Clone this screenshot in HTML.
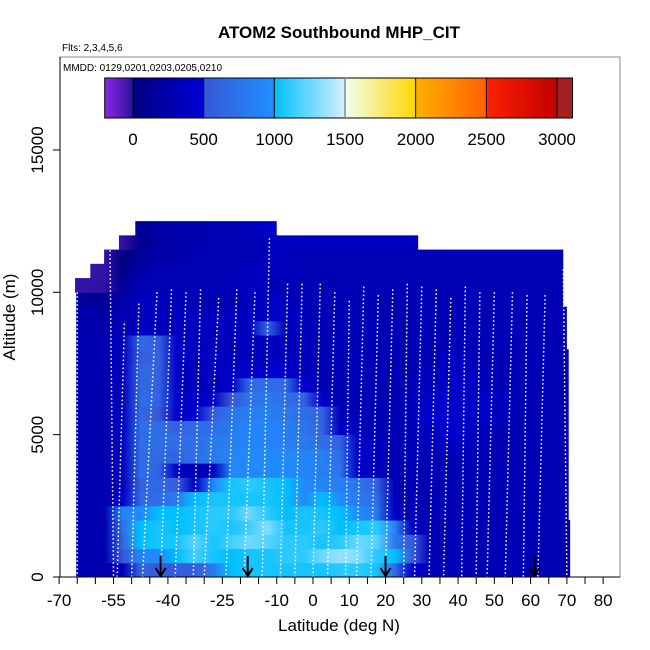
<!DOCTYPE html>
<html><head><meta charset="utf-8"><style>
body{margin:0;background:#fff;}
svg{display:block;font-family:"Liberation Sans",Arial,sans-serif;}
</style></head><body>
<svg id="chart" width="650" height="650" viewBox="0 0 650 650" xmlns="http://www.w3.org/2000/svg">
<defs id="defs"><clipPath id="pc"><rect x="60" y="57" width="560" height="520"/></clipPath></defs>
<text x="339" y="38" text-anchor="middle" font-size="17" font-weight="bold">ATOM2 Southbound MHP_CIT</text>
<text x="62" y="51" font-size="10">Flts: 2,3,4,5,6</text>
<g id="heat" clip-path="url(#pc)"></g>
<g id="tracks" clip-path="url(#pc)"></g>
<g id="arrows"></g>
<rect x="60" y="57" width="560" height="520" fill="none" stroke="#888" stroke-width="1"/>
<line x1="60" y1="57" x2="60" y2="577" stroke="#000"/>
<line x1="60" y1="577" x2="620" y2="577" stroke="#000"/>
<text x="63" y="71" font-size="10">MMDD: 0129,0201,0203,0205,0210</text>
<g id="cbar"></g>
<g id="axes"></g>
<text x="339" y="631" text-anchor="middle" font-size="17">Latitude (deg N)</text>
<text x="15" y="317" text-anchor="middle" font-size="17" transform="rotate(-90 15 317)">Altitude (m)</text>
</svg>
<script>
// ---- data ----
const latCenters = [-67.5,-62.5,-57.5,-52.5,-47.5,-42.5,-37.5,-32.5,-27.5,-22.5,-17.5,-12.5,-7.5,-2.5,2.5,7.5,12.5,17.5,22.5,27.5,32.5,37.5,42.5,47.5,52.5,57.5,62.5,67.5];
const altBinsStart = [0,500,1000,1500,2000,2500,3000,3500,4000,4500,5000,5500,6000,6500,7000,7500,8000,8500,9000,9500,10000,10500,11000,11500,12000];
const rowLatMin = [-65.3,-65.3,-65.3,-65.3,-65.3,-65.3,-65.3,-65.3,-65.3,-65.3,-65.3,-65.3,-65.3,-65.3,-65.3,-65.3,-65.3,-65.3,-65.3,-65.3,-65.6,-61.4,-57.6,-53.5,-49];
const rowLatMax = [70.9,70.9,70.9,70.9,70.5,70.5,70.5,70.5,70.5,70.5,70.5,70.5,70.5,70.5,70.5,70.5,70,70,70,69,69,69,69,29,-10];
const rowValues = [
[280,280,280,300,600,500,550,550,800,1000,1050,1050,1050,1050,1050,1100,1100,1050,700,450,300,300,300,300,300,300,300,300],
[280,280,280,500,900,950,1000,1150,1050,1000,1050,1050,1100,1100,1250,1350,1300,1100,1000,500,300,300,300,300,300,300,300,300],
[280,280,280,600,1000,1050,1050,1200,1050,1150,1250,1200,1100,1100,1050,1100,1250,1200,800,500,300,300,300,300,300,300,300,300],
[280,280,280,700,1000,1050,1000,1050,1100,1050,1150,1300,1050,1050,1100,1000,1050,1100,900,350,300,300,300,300,300,300,300,300],
[280,280,280,900,950,1000,1000,1050,1100,1100,1250,1100,1000,1050,1050,1000,950,800,400,300,300,300,300,300,300,300,300,300],
[280,280,280,400,650,700,800,1000,1050,1050,1050,1050,1000,950,1000,950,800,700,350,300,300,300,300,300,300,300,300,300],
[280,280,280,300,600,650,550,350,950,1050,1100,1050,1000,950,900,850,750,600,300,300,300,300,300,300,300,300,300,300],
[280,280,280,350,700,600,400,300,350,900,950,950,950,900,850,750,400,350,300,300,300,300,300,300,300,300,300,300],
[280,280,280,350,700,650,600,700,800,900,950,950,950,900,850,700,400,350,300,300,300,300,300,300,300,300,300,300],
[280,280,280,350,700,700,700,700,800,850,900,900,850,800,700,600,400,350,300,300,350,400,350,300,300,300,300,300],
[280,280,280,350,700,700,600,650,700,800,900,900,850,750,600,400,350,300,300,300,400,450,400,350,300,300,300,300],
[280,280,280,350,650,500,400,450,550,750,850,850,800,700,600,350,300,300,300,350,450,450,400,400,350,300,300,300],
[280,280,280,350,700,600,450,400,400,500,750,800,700,600,400,300,300,300,300,350,400,450,400,400,350,300,300,300],
[280,280,280,350,650,600,400,350,350,400,650,700,650,450,300,300,300,300,300,300,350,400,400,350,300,300,300,300],
[280,280,280,350,650,600,400,350,350,400,400,450,400,350,300,300,300,300,300,300,350,400,350,350,300,300,300,300],
[280,280,280,350,550,600,400,350,350,350,350,350,350,350,300,300,300,300,300,300,300,350,350,300,300,300,300,300],
[280,280,280,350,650,550,400,350,350,350,350,350,350,350,300,300,300,300,300,300,300,300,300,300,300,300,300,300],
[280,280,250,300,400,350,350,350,350,350,350,600,350,350,300,300,300,300,300,300,300,300,300,300,300,300,300,300],
[250,250,200,300,350,350,350,350,350,350,350,400,400,350,300,300,300,300,300,300,300,300,300,300,300,300,300,300],
[200,150,100,250,350,350,300,300,300,300,350,400,350,300,300,300,300,300,300,300,300,300,300,300,300,300,300,300],
[-20,-20,-10,150,300,300,300,300,300,300,350,350,300,300,300,300,300,300,300,300,300,300,300,300,300,300,300,300],
[-20,-20,-20,50,250,300,300,300,300,300,350,350,350,300,300,300,300,300,300,300,300,300,300,300,300,300,300,300],
[-20,-20,-20,0,150,250,250,300,300,300,300,350,350,300,300,300,300,300,300,300,300,300,300,300,300,300,300,300],
[-20,-20,-20,-10,100,200,250,250,300,300,300,350,400,350,350,350,350,350,350,350,350,350,350,350,350,350,350,350],
[-20,-20,-20,-10,100,200,250,250,300,300,350,400,400,400,400,400,400,400,400,400,400,400,400,400,400,400,400,400]
];
const trackLatTop = [-65,-56,-52,-48,-43,-39,-35,-31,-26,-21,-16,-12,-7,-3,2,6,10,14,18,22,26,30,34,38,42,46,50,55,59,64,69];
const trackLatBot = [-65,-55,-54,-50,-47,-42,-38,-33,-30,-24,-19,-14,-9,-5,0,4,9,12,16,20,25,28,32,36,41,45,48,53,58,62,70];
const trackAltTop = [10000,11900,8900,9600,10000,10100,10000,10100,9800,10100,10000,11900,10300,10300,10300,10000,9700,10200,9900,10100,10300,10200,10100,9800,10200,10000,10000,10000,9900,9900,10800];
const arrowLats = [-42,-18,20,61];
const cbarStops = [-200,0,500,1000,1500,2000,2500,3000];
const cbarLabels = [0,500,1000,1500,2000,2500,3000];
const xTickVals = [-70,-65,-60,-55,-50,-45,-40,-35,-30,-25,-20,-15,-10,-5,0,5,10,15,20,25,30,35,40,45,50,55,60,65,70,75,80];
const xTickLabels = [-70,-55,-40,-25,-10,0,10,20,30,40,50,60,70,80];
const yTickLabels = [0,5000,10000,15000];

// ---- scales ----
const X = lat => 313 + lat*3.627;
const Y = alt => 577 - alt*0.02847;
const NS='http://www.w3.org/2000/svg';
function mk(tag,attrs,parent){const e=document.createElementNS(NS,tag);for(const k in attrs)e.setAttribute(k,attrs[k]);parent.appendChild(e);return e;}
function hex(c){return [parseInt(c.slice(1,3),16),parseInt(c.slice(3,5),16),parseInt(c.slice(5,7),16)];}
const segs=[[-200,0,'#8a2be2','#2a10a0'],[0,500,'#000080','#0000d8'],[500,1000,'#3858d8','#1e90ff'],[1000,1500,'#00bfff','#d8f0ff'],[1500,2000,'#f0fff0','#ffd700'],[2000,2500,'#ffb000','#ff6000'],[2500,3000,'#ff2000','#c00000'],[3000,3200,'#a52020','#a52020']];
function col(v){for(const s of segs){if(v>=s[0]&&v<s[1]){const t=(v-s[0])/(s[1]-s[0]);const a=hex(s[2]),b=hex(s[3]);return 'rgb('+a.map((x,i)=>Math.round(x+(b[i]-x)*t)).join(',')+')';}}return '#a52020';}

// ---- heatmap (one row per altitude bin, colour varies along latitude) ----
const heat=document.getElementById('heat');
const defs=document.getElementById('defs');
altBinsStart.forEach((a,r)=>{
  const gid='row'+r;
  const g=mk('linearGradient',{id:gid,gradientUnits:'userSpaceOnUse',x1:X(latCenters[0]),y1:0,x2:X(latCenters[latCenters.length-1]),y2:0},defs);
  const span=latCenters[latCenters.length-1]-latCenters[0];
  latCenters.forEach((lc,c)=>{mk('stop',{offset:((lc-latCenters[0])/span).toFixed(4),'stop-color':col(rowValues[r][c])},g);});
  const e=mk('rect',{x:X(rowLatMin[r]),y:Y(a+500),width:X(rowLatMax[r])-X(rowLatMin[r]),height:Y(a)-Y(a+500)+0.5,fill:'url(#'+gid+')'},heat);
  
  
});
// ---- tracks ----
const tr=document.getElementById('tracks');
trackLatTop.forEach((lt,i)=>{
  const e=mk('line',{x1:X(lt),y1:Y(trackAltTop[i]),x2:X(trackLatBot[i]),y2:Y(0),stroke:'#fff','stroke-width':1.5,'stroke-dasharray':'1.5 2.5'},tr);
  
  
});
// ---- arrows ----
const ar=document.getElementById('arrows');
arrowLats.forEach(l=>{
  const g=mk('g',{},ar);
  
  
  mk('line',{x1:X(l),y1:556,x2:X(l),y2:576,stroke:'#000','stroke-width':2},g);
  mk('polyline',{points:(X(l)-5)+',568 '+X(l)+',576 '+(X(l)+5)+',568',fill:'none',stroke:'#000','stroke-width':2},g);
});
// ---- colorbar ----
const CX=v=>133+v*0.14133;
const cb=document.getElementById('cbar');


for(let v=-200;v<3110;v+=5){mk('rect',{x:CX(v),y:78,width:0.14133*5+0.4,height:40,fill:col(v)},cb);}
mk('rect',{x:CX(-200),y:78,width:CX(3110)-CX(-200),height:40,fill:'none',stroke:'#000'},cb);
cbarStops.slice(1).forEach(v=>{mk('line',{x1:CX(v),y1:78,x2:CX(v),y2:118,stroke:v===1500?'#888':'#000','stroke-width':v===1500?1.5:1},cb);});
cbarLabels.forEach(v=>{const t=mk('text',{x:CX(v),y:145,'text-anchor':'middle','font-size':17},cb);t.textContent=v;
  
  });
// ---- axes ----
const ax=document.getElementById('axes');
xTickVals.forEach(v=>{mk('line',{x1:X(v),y1:577,x2:X(v),y2:584,stroke:'#000'},ax);});
xTickLabels.forEach(v=>{const t=mk('text',{x:X(v),y:606,'text-anchor':'middle','font-size':17},ax);t.textContent=v;
  
  });
yTickLabels.forEach(v=>{mk('line',{x1:53,y1:Y(v),x2:60,y2:Y(v),stroke:'#000'},ax);
  const t=mk('text',{x:43,y:Y(v),'text-anchor':'middle','font-size':17,transform:'rotate(-90 43 '+Y(v)+')'},ax);t.textContent=v;
  
  });
</script>
</body></html>
